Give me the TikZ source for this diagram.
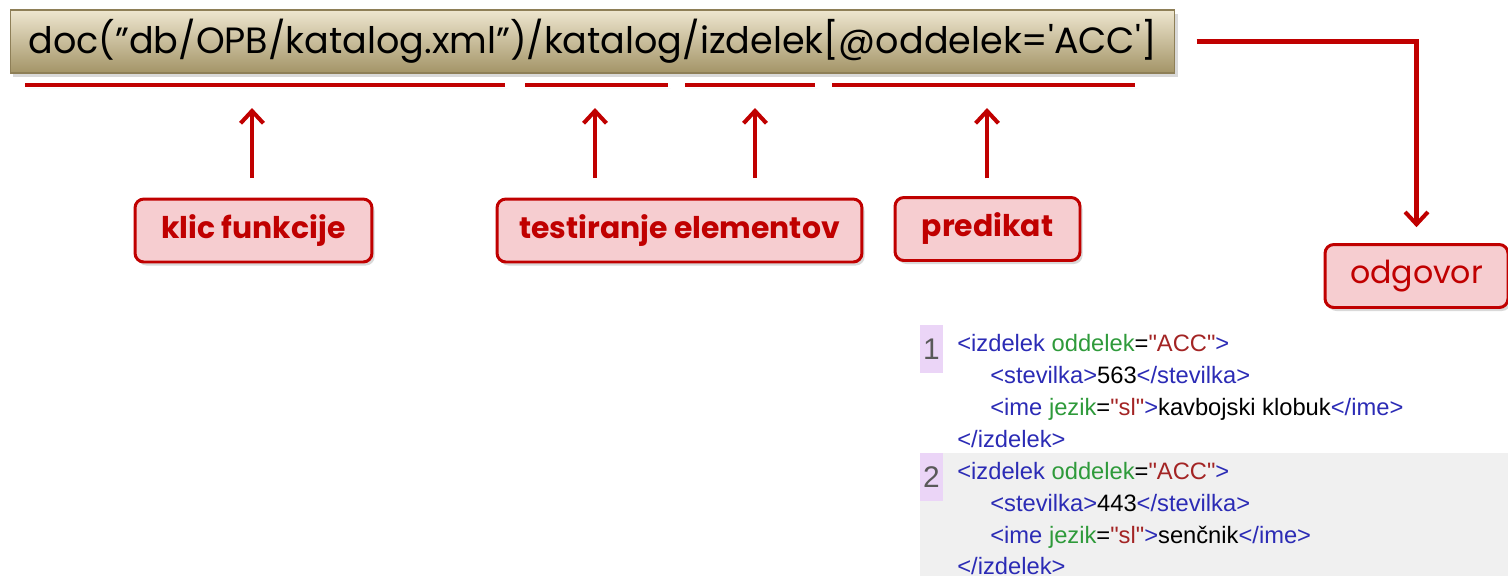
\documentclass[tikz,border=0pt]{standalone}
\usepackage{fontspec}
\setmainfont{Poppins}
\newfontfamily\codefont{Liberation Sans}
\usetikzlibrary{arrows.meta,positioning,calc,shadows}
\definecolor{darkred}{HTML}{C00000}
\definecolor{pinkfill}{HTML}{F6CDD0}
\definecolor{tancream}{HTML}{EEE6CF}
\definecolor{tandark}{HTML}{A39467}
\definecolor{tanedge}{HTML}{8E7F57}
\definecolor{tagblue}{HTML}{2B2BB5}
\definecolor{attrgreen}{HTML}{2E9A3A}
\definecolor{valred}{HTML}{A32424}
\definecolor{numlilac}{HTML}{EBD5F7}
\definecolor{rowgray}{HTML}{F0F0F0}
\newcommand{\xtag}[1]{\textcolor{tagblue}{#1}}
\newcommand{\xattr}[1]{\textcolor{attrgreen}{#1}}
\newcommand{\xval}[1]{\textcolor{valred}{#1}}
\tikzset{
	softshadow/.style={drop shadow={opacity=0.3, shadow xshift=1.5pt, shadow yshift=-2pt}},
	querybox/.style={draw=tanedge, line width=0.6pt, top color=tancream, bottom color=tandark,
		minimum width=23.3cm, minimum height=1.26cm, inner sep=0pt, softshadow,
		font=\fontsize{20.8}{24}\selectfont},
	labelbox/.style={draw=darkred, line width=1.7pt, fill=pinkfill, rounded corners=5pt,
		minimum height=1.26cm, inner sep=0pt, text=darkred, softshadow,
		font=\bfseries\fontsize{17}{20}\selectfont},
	answerbox/.style={labelbox, font=\fontsize{18}{21}\selectfont},
	underline/.style={draw=darkred, line width=2.8pt, softshadow},
	uparrow/.style={draw=darkred, line width=2.3pt, -{Straight Barb[length=7pt,width=13pt]}},
	codeline/.style={anchor=base west, inner sep=0pt, font=\codefont\fontsize{13.5}{16}\selectfont},
	numbox/.style={fill=numlilac, minimum width=0.46cm, minimum height=0.96cm, inner sep=0pt,
		text=black!65, font=\codefont\fontsize{17}{20}\selectfont}
}
\begin{document}
\begin{tikzpicture}[x=0.02cm, y=-0.02cm]
	\useasboundingbox (0,0) rectangle (1508,576);

	% the query and its parts
	\node[querybox] (query) at (592.5,41.5) {doc("db/OPB/katalog.xml")/katalog/izdelek[@oddelek=\textquotesingle ACC\textquotesingle]};
	\draw[underline] (25,85) -- (505,85);
	\draw[underline] (525,85) -- (668,85);
	\draw[underline] (685,85) -- (815,85);
	\draw[underline] (832,85) -- (1135,85);

	\node[labelbox, minimum width=4.74cm] (klic) at (253.5,230.5) {klic funkcije};
	\node[labelbox, minimum width=7.3cm] (test) at (679.5,230.5) {testiranje elementov};
	\node[labelbox, minimum width=3.7cm] (pred) at (987.5,229) {predikat};
	\node[answerbox, minimum width=3.66cm] (odg) at (1416.5,276) {odgovor};

	\coordinate (a1) at (252,108);
	\coordinate (a2) at (595,108);
	\coordinate (a3) at (755,108);
	\coordinate (a4) at (987,108);
	\draw[uparrow, shorten <=11pt] (a1 |- klic.north) -- (a1);
	\draw[uparrow, shorten <=11pt] (a2 |- test.north) -- (a2);
	\draw[uparrow, shorten <=11pt] (a3 |- test.north) -- (a3);
	\draw[uparrow, shorten <=10pt] (a4 |- pred.north) -- (a4);
	\draw[uparrow, shorten <=12pt, shorten >=9pt] (query.east) -| (odg.north);

	% result listing
	\fill[rowgray] (920,453) rectangle (1508,576);
	\node[numbox] (n1) at (931.5,349) {1};
	\node[numbox] (n2) at (931.5,477) {2};
	\node[codeline] (r1) at (957,351) {\xtag{<izdelek} \xattr{oddelek}=\xval{"ACC"}\xtag{>}};
	\node[codeline] (r2) at (990,383) {\xtag{<stevilka>}563\xtag{</stevilka>}};
	\node[codeline] (r3) at (990,415) {\xtag{<ime} \xattr{jezik}=\xval{"sl"}\xtag{>}kavbojski klobuk\xtag{</ime>}};
	\node[codeline] (r4) at (957,447) {\xtag{</izdelek>}};
	\node[codeline] (r5) at (957,479) {\xtag{<izdelek} \xattr{oddelek}=\xval{"ACC"}\xtag{>}};
	\node[codeline] (r6) at (990,511) {\xtag{<stevilka>}443\xtag{</stevilka>}};
	\node[codeline] (r7) at (990,543) {\xtag{<ime} \xattr{jezik}=\xval{"sl"}\xtag{>}senčnik\xtag{</ime>}};
	\node[codeline] (r8) at (957,574) {\xtag{</izdelek>}};
\end{tikzpicture}
\end{document}
